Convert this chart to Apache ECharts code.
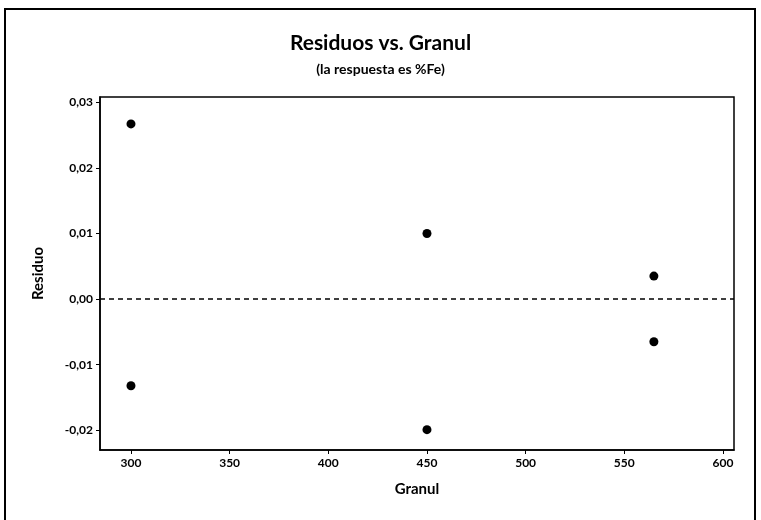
<!DOCTYPE html>
<html>
<head>
<meta charset="utf-8">
<script src="https://cdn.jsdelivr.net/npm/echarts@6/dist/echarts.min.js"></script>
<style>
  html, body { margin: 0; padding: 0; background: #fff; }
  #chart { width: 761px; height: 520px; }
</style>
</head>
<body>
<div id="chart"></div>
<script>
// Residuals of %Fe against granulometry
const granul   = [300, 300, 450, 450, 565, 565];
const residuos = [0.0267, -0.0132, 0.0100, -0.0199, 0.0035, -0.0065];

const xTicks = [300, 350, 400, 450, 500, 550, 600];
const yTicks = [-0.02, -0.01, 0.00, 0.01, 0.02, 0.03];

const FONT = 'Lato';
const comma = v => v.toFixed(2).replace('.', ',');

const chart = echarts.init(document.getElementById('chart'));
chart.setOption({
  animation: false,
  backgroundColor: '#fff',
  textStyle: { fontFamily: FONT },
  title: {
    text: 'Residuos vs. Granul',
    subtext: '(la respuesta es %Fe)',
    left: 'center',
    top: 28,
    itemGap: 8,
    textStyle: { fontFamily: FONT, fontSize: 21, fontWeight: 'bold', color: '#000' },
    subtextStyle: { fontFamily: FONT, fontSize: 14, fontWeight: 'bold', color: '#000' }
  },
  graphic: [{
    type: 'rect',
    shape: { x: 5, y: 9, width: 750, height: 520 },
    style: { fill: 'none', stroke: '#000', lineWidth: 2 },
    silent: true
  }],
  grid: {
    left: 100, right: 27, top: 97, bottom: 70,
    show: true, borderColor: '#000', borderWidth: 1.5, backgroundColor: '#fff'
  },
  xAxis: {
    type: 'value',
    min: 284.3, max: 605.6,
    name: 'Granul',
    nameLocation: 'middle',
    nameGap: 32,
    nameTextStyle: { fontFamily: FONT, fontSize: 15, fontWeight: 'bold', color: '#000' },
    axisLine: { show: true, onZero: false, lineStyle: { color: '#000', width: 1.5 } },
    axisTick: { show: true, length: 4, customValues: xTicks, lineStyle: { color: '#000' } },
    axisLabel: {
      customValues: xTicks,
      fontFamily: FONT, fontSize: 12, fontWeight: 'bold', color: '#000', margin: 7
    },
    splitLine: { show: false }
  },
  yAxis: {
    type: 'value',
    min: -0.0230, max: 0.0308,
    name: 'Residuo',
    nameLocation: 'middle',
    nameGap: 54,
    nameTextStyle: { fontFamily: FONT, fontSize: 15, fontWeight: 'bold', color: '#000' },
    axisLine: { show: true, onZero: false, lineStyle: { color: '#000', width: 1.5 } },
    axisTick: { show: true, length: 4, customValues: yTicks, lineStyle: { color: '#000' } },
    axisLabel: {
      customValues: yTicks,
      formatter: comma,
      fontFamily: FONT, fontSize: 12, fontWeight: 'bold', color: '#000', margin: 7
    },
    splitLine: { show: false }
  },
  series: [{
    type: 'scatter',
    data: granul.map((g, i) => [g, residuos[i]]),
    symbol: 'circle',
    symbolSize: 9,
    itemStyle: { color: '#000', opacity: 1 },
    markLine: {
      silent: true,
      symbol: 'none',
      label: { show: false },
      lineStyle: { color: '#000', type: [5, 4], width: 1.5, opacity: 1 },
      data: [{ yAxis: 0 }]
    }
  }]
});
</script>
</body>
</html>
